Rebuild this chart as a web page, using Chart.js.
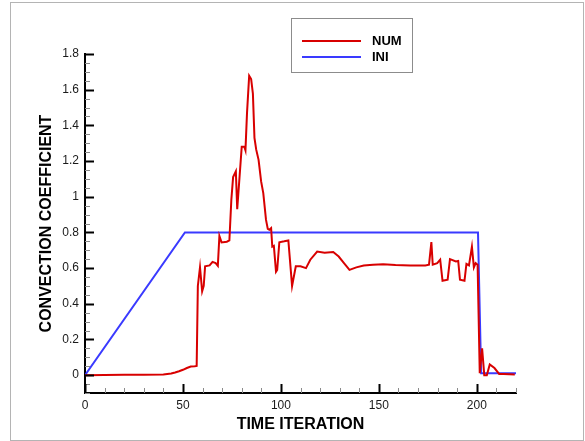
<!DOCTYPE html>
<html>
<head>
<meta charset="utf-8">
<script src="https://cdn.jsdelivr.net/npm/chart.js@4.4.0/dist/chart.umd.min.js"></script>
<style>
  html, body { margin: 0; padding: 0; background: #fff; }
  #wrap { width: 585px; height: 441px; position: relative; }
</style>
</head>
<body>
<div id="wrap"><canvas id="c" width="585" height="441"></canvas></div>
<script>
// ---- data ----
const numIterations = [0, 10, 20, 30, 40, 44, 46, 48, 50, 52, 54, 56, 57, 57.6, 58.7, 59.8, 60.6, 61.3, 63.6, 65.1,
  66.7, 67.8, 68.6, 69.7, 72.4, 73.7, 74.7, 75.6, 77, 77.7, 80, 81.3, 81.9, 82.7, 83.8, 84.8, 85.7, 86.5, 87.4, 88.6,
  89.9, 91, 92.4, 93.3, 94.1, 95, 95.6, 96.4, 97.5, 98.1, 99.2, 101.7, 103.8, 105.7, 107.6, 110, 112.8, 115, 118.5, 122.3,
  126.7, 129.5, 132.2, 135, 138.5, 142.3, 147, 152.2, 158.5, 166, 173.7, 175.6, 176.8, 177.5, 179.8, 181.3, 182.5, 185.1, 186.3, 189.3,
  190.5, 191.4, 193.7, 194.7, 196, 197.5, 198.5, 199.4, 200.4, 201.5, 202.7, 203.8, 205.1, 206.6, 209, 211.4, 213.7, 219.4];
const numValues = [0, 0.001, 0.002, 0.002, 0.004, 0.009, 0.015, 0.022, 0.03, 0.04, 0.048, 0.05, 0.052, 0.5, 0.605, 0.47, 0.50, 0.61, 0.615, 0.635,
  0.628, 0.613, 0.78, 0.744, 0.748, 0.755, 0.983, 1.11, 1.142, 0.93, 1.28, 1.28, 1.26, 1.47, 1.678, 1.66, 1.578, 1.33, 1.264, 1.207,
  1.086, 1.02, 0.87, 0.82, 0.815, 0.824, 0.72, 0.725, 0.58, 0.59, 0.745, 0.75, 0.755, 0.50, 0.61, 0.61, 0.60, 0.647, 0.693, 0.686,
  0.69, 0.665, 0.628, 0.59, 0.604, 0.615, 0.619, 0.622, 0.617, 0.615, 0.615, 0.619, 0.746, 0.619, 0.628, 0.647, 0.529, 0.535, 0.65, 0.637,
  0.64, 0.535, 0.529, 0.624, 0.615, 0.72, 0.604, 0.628, 0.619, 0.011, 0.15, 0, 0, 0.06, 0.04, 0.007, 0.007, 0.004];
const iniIterations = [0, 51, 200.6, 202.2, 220];
const iniValues = [0, 0.8, 0.8, 0.01, 0.01];

const seriesLabels = ['NUM', 'INI'];
const xMajorTicks = [0, 50, 100, 150, 200];
const xMinorTicks = [10, 20, 30, 40, 60, 70, 80, 90, 110, 120, 130, 140, 160, 170, 180, 190, 210, 220];
const yMajorTicks = [0, 0.2, 0.4, 0.6, 0.8, 1, 1.2, 1.4, 1.6, 1.8];
const yMinorTicks = [-0.1, -0.05, 0.05, 0.1, 0.15, 0.25, 0.3, 0.35, 0.45, 0.5, 0.55, 0.65, 0.7, 0.75, 0.85, 0.9, 0.95,
  1.05, 1.1, 1.15, 1.25, 1.3, 1.35, 1.45, 1.5, 1.55, 1.65, 1.7, 1.75];
const xTitle = 'TIME ITERATION';
const yTitle = 'CONVECTION COEFFICIENT';

const toPoints = (xs, ys) => xs.map((x, i) => ({ x: x, y: ys[i] }));

// ---- plugins ----
const framePlugin = {
  id: 'frame',
  beforeDraw(chart) {
    const ctx = chart.ctx;
    ctx.save();
    ctx.fillStyle = '#ffffff';
    ctx.fillRect(0, 0, chart.width, chart.height);
    ctx.strokeStyle = '#b4b4b4';
    ctx.lineWidth = 1;
    ctx.strokeRect(10.5, 2.5, 573, 438);
    ctx.restore();
  }
};

const innerTicksPlugin = {
  id: 'innerTicks',
  afterDraw(chart) {
    const ctx = chart.ctx;
    const xs = chart.scales.x, ys = chart.scales.y;
    const area = chart.chartArea;
    ctx.save();
    const draw = (vals, scale, len, color, width, horiz) => {
      ctx.strokeStyle = color;
      ctx.lineWidth = width;
      vals.forEach(v => {
        const p = Math.round(scale.getPixelForValue(v)) + 0.5;
        ctx.beginPath();
        if (horiz) {
          ctx.moveTo(p, area.bottom);
          ctx.lineTo(p, area.bottom - len);
        } else {
          ctx.moveTo(area.left, p);
          ctx.lineTo(area.left + len, p);
        }
        ctx.stroke();
      });
    };
    draw(xMinorTicks, xs, 5, '#8a8a8a', 1, true);
    draw(yMinorTicks, ys, 5, '#8a8a8a', 1, false);
    draw(xMajorTicks, xs, 9, '#000000', 2, true);
    draw(yMajorTicks, ys, 9, '#000000', 2, false);
    ctx.restore();
  }
};

const boxLegendPlugin = {
  id: 'boxLegend',
  afterDraw(chart) {
    const ctx = chart.ctx;
    ctx.save();
    ctx.strokeStyle = '#8c8c8c';
    ctx.lineWidth = 1;
    ctx.strokeRect(291.5, 18.5, 121, 54);
    const rows = [41, 57];
    chart.data.datasets.forEach((ds, i) => {
      const y = rows[i];
      ctx.strokeStyle = ds.borderColor;
      ctx.lineWidth = 2;
      ctx.beginPath();
      ctx.moveTo(302, y);
      ctx.lineTo(361, y);
      ctx.stroke();
      ctx.fillStyle = '#000';
      ctx.font = 'bold 13px "Liberation Sans", Arial, sans-serif';
      ctx.textBaseline = 'middle';
      ctx.textAlign = 'left';
      ctx.fillText(ds.label, 372, y + 0.5);
    });
    ctx.restore();
  }
};

// ---- chart ----
new Chart(document.getElementById('c'), {
  type: 'line',
  data: {
    datasets: [
      { label: seriesLabels[0], data: toPoints(numIterations, numValues), borderColor: '#d80000', borderWidth: 2,
        pointRadius: 0, tension: 0, fill: false },
      { label: seriesLabels[1], data: toPoints(iniIterations, iniValues), borderColor: '#3a3aff', borderWidth: 2,
        pointRadius: 0, tension: 0, fill: false }
    ]
  },
  options: {
    responsive: false,
    animation: false,
    events: [],
    layout: { padding: { left: 0, right: 69, top: 54, bottom: 0 } },
    plugins: { legend: { display: false }, tooltip: { enabled: false } },
    scales: {
      x: {
        type: 'linear', min: 0, max: 220,
        afterBuildTicks: s => { s.ticks = xMajorTicks.map(v => ({ value: v })); },
        afterFit: s => { s.height = 48; },
        grid: { display: false, drawTicks: false },
        border: { display: true, color: '#000', width: 2 },
        ticks: { padding: 5, color: '#1a1a1a', font: { family: '"Liberation Sans", Arial, sans-serif', size: 12 },
          maxRotation: 0, autoSkip: false, callback: v => String(+(+v).toFixed(2)) },
        title: { display: true, text: xTitle, color: '#000', padding: { top: 6, bottom: 6.5 },
          font: { family: '"Liberation Sans", Arial, sans-serif', size: 16, weight: 'bold' } }
      },
      y: {
        type: 'linear', min: -0.1, max: 1.8,
        afterBuildTicks: s => { s.ticks = yMajorTicks.map(v => ({ value: v })); },
        afterFit: s => { s.width = 85; },
        grid: { display: false, drawTicks: false },
        border: { display: true, color: '#000', width: 2 },
        ticks: { padding: 6, color: '#1a1a1a', font: { family: '"Liberation Sans", Arial, sans-serif', size: 12 },
          autoSkip: false, callback: v => String(+(+v).toFixed(2)) },
        title: { display: true, text: yTitle, color: '#000', padding: { top: 37, bottom: 0 },
          font: { family: '"Liberation Sans", Arial, sans-serif', size: 16, weight: 'bold' } }
      }
    }
  },
  plugins: [framePlugin, innerTicksPlugin, boxLegendPlugin]
});
</script>
</body>
</html>
